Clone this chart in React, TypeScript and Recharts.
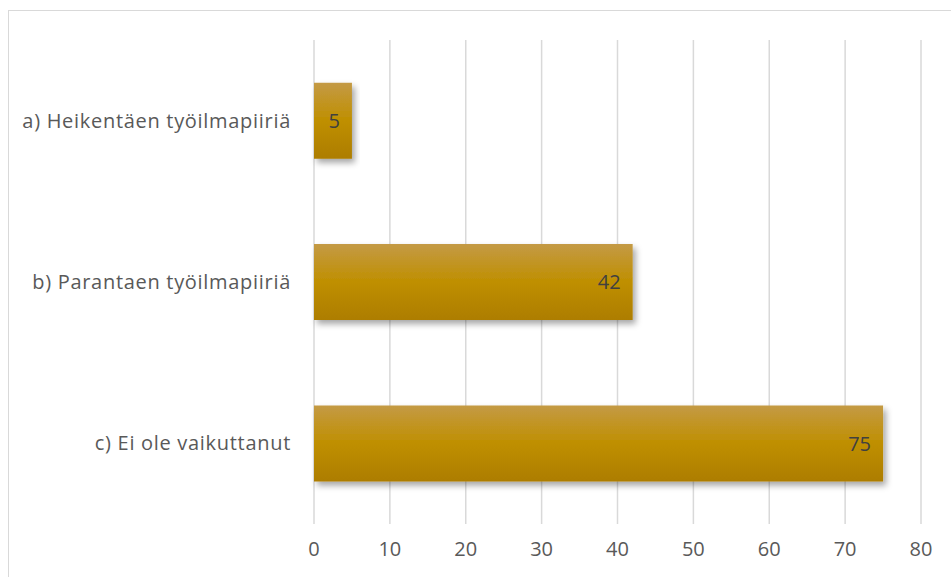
import React from "react";
import { BarChart, Bar, XAxis, YAxis, CartesianGrid, LabelList } from "recharts";

const categories = ["a) Heikentäen työilmapiiriä", "b) Parantaen työilmapiiriä", "c) Ei ole vaikuttanut"];
const values = [5, 42, 75];
const xTicks = [0, 10, 20, 30, 40, 50, 60, 70, 80];

const data = categories.map((name, i) => ({ name, value: values[i] }));

const FONT = "'Open Sans', 'Liberation Sans', sans-serif";

export default function App() {
  return (
    <div
      style={{
        position: "absolute",
        left: 8,
        top: 10,
        width: 943,
        height: 567,
        overflow: "hidden",
      }}
    >
      <div
        style={{
          width: 960,
          height: 600,
          border: "1px solid #d9d9d9",
          boxSizing: "border-box",
          background: "#fff",
        }}
      >
        <BarChart
          width={958}
          height={598}
          data={data}
          layout="vertical"
          margin={{ top: 29, right: 46, bottom: 44, left: 0 }}
          barCategoryGap="26.5%"
        >
          <defs>
            <linearGradient id="barGrad" x1="0" y1="0" x2="0" y2="1">
              <stop offset="0%" stopColor="#c49a45" />
              <stop offset="50%" stopColor="#bf8f00" />
              <stop offset="100%" stopColor="#ad7d00" />
            </linearGradient>
            <filter id="shadow" x="-10%" y="-20%" width="130%" height="160%">
              <feDropShadow dx="3" dy="4" stdDeviation="3" floodColor="#000" floodOpacity="0.35" />
            </filter>
          </defs>
          <CartesianGrid horizontal={false} stroke="#d9d9d9" strokeWidth={1.5} />
          <XAxis
            type="number"
            domain={[0, 80]}
            ticks={xTicks}
            axisLine={false}
            tickLine={false}
            tickSize={0}
            tickMargin={18}
            height={41}
            tick={{ fill: "#595959", fontSize: 20, fontFamily: FONT }}
            interval={0}
          />
          <YAxis
            type="category"
            dataKey="name"
            width={305}
            axisLine={false}
            tickLine={false}
            tickSize={0}
            tickMargin={23}
            tick={{ fill: "#595959", fontSize: 20, fontFamily: FONT, letterSpacing: 0.7 }}
            interval={0}
          />
          <Bar
            dataKey="value"
            fill="url(#barGrad)"
            filter="url(#shadow)"
            isAnimationActive={false}
          >
            <LabelList
              dataKey="value"
              position="insideRight"
              offset={12}
              fill="#404040"
              style={{ fontSize: 20, fontFamily: FONT }}
            />
          </Bar>
        </BarChart>
      </div>
    </div>
  );
}
